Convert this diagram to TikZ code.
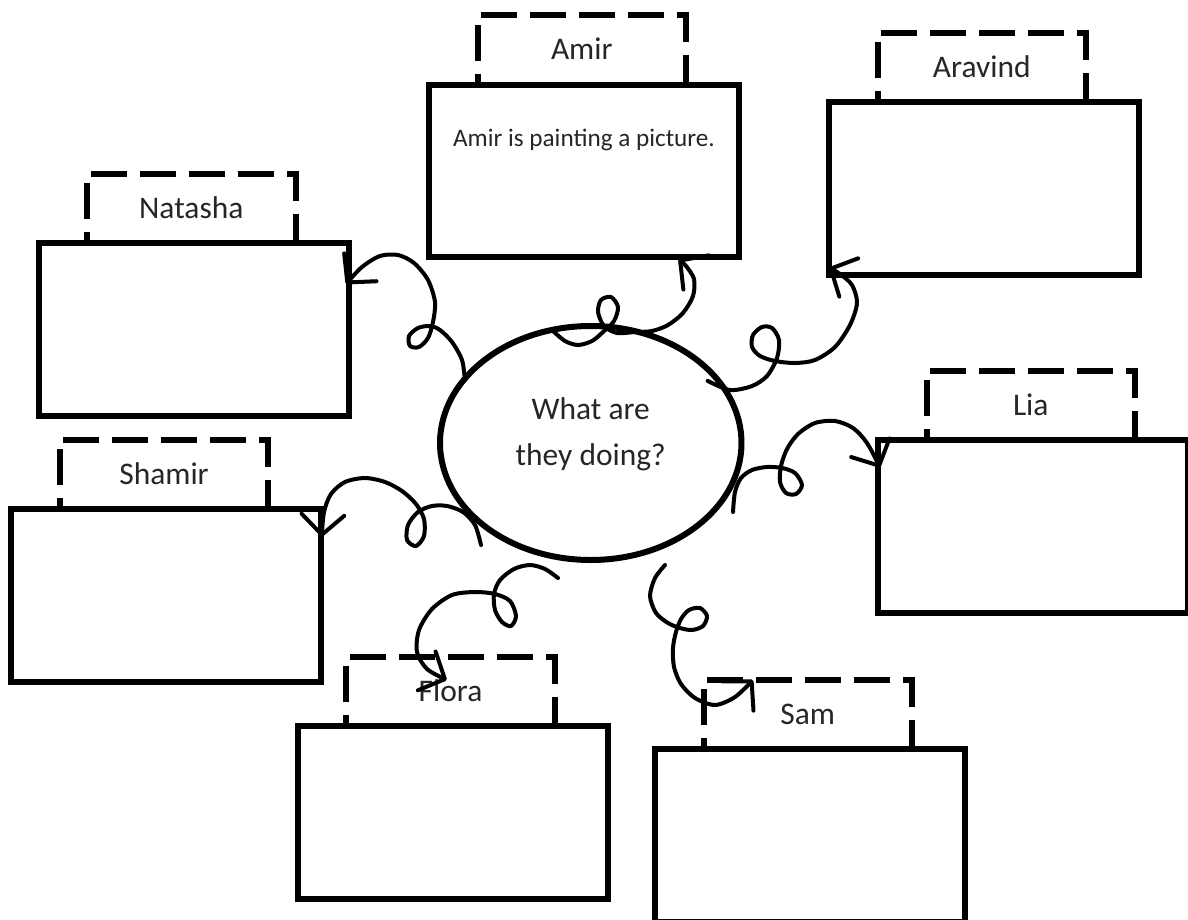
\documentclass[tikz,border=0pt]{standalone}
\usepackage{fontspec}
\setmainfont{Carlito}
\usetikzlibrary{arrows.meta,calc,shapes.geometric}
\begin{document}
\begin{tikzpicture}[x=0.75pt,y=-0.75pt,
  box/.style={draw, line width=4.5pt, minimum width=232.5pt, minimum height=129.4pt, inner sep=0pt, outer sep=0pt},
  tag/.style={minimum width=156.4pt, minimum height=52.1pt, inner sep=0pt, outer sep=0pt, anchor=south west,
    font=\fontsize{23.6}{28}\selectfont, text=black!85, text height=15pt, text depth=0pt},
  tagline/.style={line width=4.5pt, dash pattern=on 27pt off 9.75pt, dash phase=18.75pt},
  conn/.style={line width=3pt, line cap=round, line join=round,
    -{Straight Barb[length=15pt,width=32pt,round]}},
]
\useasboundingbox (0,0) rectangle (1188,920);

% boxes
\node[box] (amir)    at (584,171)      {};
\node[box] (aravind) at (984,188.5)    {};
\node[box] (natasha) at (193.5,329.75) {};
\node[box] (shamir)  at (166.25,595.5) {};
\node[box] (lia)     at (1033,526.75)  {};
\node[box] (flora)   at (452.75,812.75){};
\node[box] (sam)     at (810,835.75)   {};

% name tags
\node[tag] (amirT)    at ($(amir.north west)+(48.5,0)$)    {Amir};
\node[tag] (aravindT) at ($(aravind.north west)+(48.5,0)$) {Aravind};
\node[tag] (natashaT) at ($(natasha.north west)+(48.5,0)$) {Natasha};
\node[tag] (shamirT)  at ($(shamir.north west)+(48.5,0)$)  {Shamir};
\node[tag] (liaT)     at ($(lia.north west)+(48.5,0)$)     {Lia};
\node[tag] (floraT)   at ($(flora.north west)+(48.5,0)$)   {Flora};
\node[tag] (samT)     at ($(sam.north west)+(48.5,0)$)     {Sam};
\foreach \t in {amirT,aravindT,natashaT,shamirT,liaT,floraT,samT}{
  \draw[tagline] (\t.south west) -- (\t.north west) -- (\t.north east) -- (\t.south east);
}

\node[anchor=base, font=\fontsize{18.9}{22}\selectfont, text=black!85] (amirtxt)
  at ($(amir.north)+(0,62)$) {Amir is painting a picture.};

% centre
\node[draw, ellipse, line width=4.5pt, minimum width=226.1pt, minimum height=175.5pt,
  inner sep=0pt, outer sep=0pt] (ell) at (590.75,443) {};
\node[font=\fontsize{23.6}{34.5}\selectfont, align=center, text=black!85] (q)
  at ($(ell.center)+(0,-8.5)$) {What are\\they doing?};

% connector ends
\coordinate (natTip)  at ($(natasha.north east)+(-2.5,40.5)$);
\coordinate (amirTip) at ($(amir.south west)+(249.5,2)$);
\coordinate (aravS)   at ($(ell.center)!0.94!(ell.28)$);
\coordinate (aravTip) at ($(aravind.south west)+(0,-7)$);
\coordinate (liaS)    at (733,512);
\coordinate (liaTip)  at ($(lia.north west)+(2,27)$);
\coordinate (shamS)   at (481,545);
\coordinate (shamTip) at ($(shamir.north east)+(0.5,27.5)$);
\coordinate (floS)    at (558,578);
\coordinate (floTip)  at ($(flora.north west)+(149,-46.5)$);
\coordinate (samS)    at (665,565);
\coordinate (samTip)  at ($(sam.north west)+(98,-69.5)$);

% curly connectors
\draw[conn] plot[smooth] coordinates {(ell.153) (462,360) (452,342) (440,330) (430,326) (418,328)
  (409,336) (410,346) (419,347) (428,338) (433,322) (435,302) (428,280) (414,263) (398,255)
  (380,256) (362,267) (natTip)};
\draw[conn] plot[smooth] coordinates {(ell.109) (565,341) (578,345) (592,341) (603,332) (614,321)
  (618,307) (611,297) (601,300) (598,312) (604,326) (617,333) (635,332) (652,331) (668,325)
  (683,313) (693,296) (694,279) (686,266) (amirTip)};
\draw[conn] plot[smooth] coordinates {(aravS) (730,390) (752,386) (767,376) (777,358) (779,340)
  (772,328) (762,327) (753,335) (752,347) (760,356) (775,361) (795,363) (815,360) (835,347)
  (850,325) (857,303) (852,285) (840,274) (aravTip)};
\draw[conn] plot[smooth] coordinates {(liaS) (735,492) (741,478) (752,470) (767,467) (782,468)
  (795,473) (802,485) (796,494) (786,493) (780,482) (781,466) (787,449) (798,434) (815,423)
  (835,421) (853,428) (867,443) (liaTip)};
\draw[conn] plot[smooth] coordinates {(shamS) (475,525) (463,512) (447,506) (432,506) (418,512)
  (408,525) (407,540) (416,546) (424,536) (424,519) (416,504) (402,491) (385,482) (365,478)
  (345,482) (331,494) (324,512) (shamTip)};
\draw[conn] plot[smooth] coordinates {(floS) (545,569) (530,565) (514,569) (500,580) (494,594)
  (495,610) (502,622) (511,626) (516,616) (510,601) (495,594) (475,592) (452,595) (432,609)
  (419,630) (417,652) (427,669) (floTip)};
\draw[conn] plot[smooth] coordinates {(samS) (655,578) (650,596) (656,613) (668,623) (680,628)
  (692,630) (703,626) (707,616) (700,608) (689,610) (681,619) (676,632) (673,648) (674,667)
  (681,684) (695,698) (715,705) (735,697) (samTip)};
\end{tikzpicture}
\end{document}
